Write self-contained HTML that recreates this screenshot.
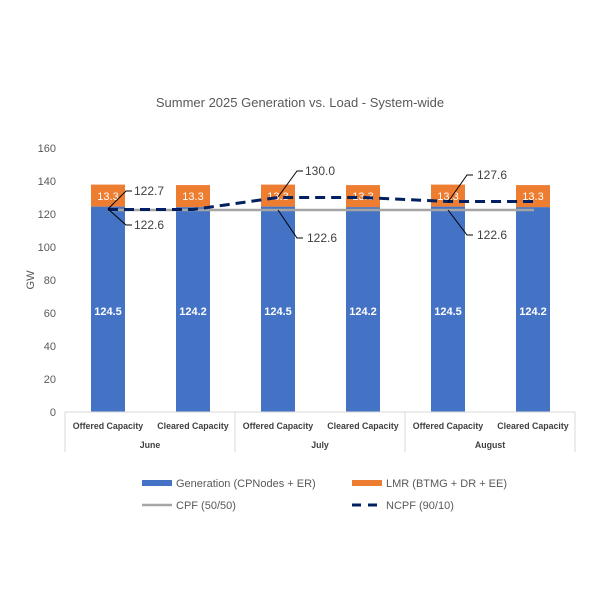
<!DOCTYPE html>
<html><head><meta charset="utf-8"><style>
body{margin:0;background:#fff;}
svg{display:block;font-family:"Liberation Sans",sans-serif;}
</style></head><body>
<svg width="600" height="600" viewBox="0 0 600 600" xmlns="http://www.w3.org/2000/svg">
<rect width="600" height="600" fill="#fff"/>
<text x="300" y="107" text-anchor="middle" font-size="13" fill="#595959">Summer 2025 Generation vs. Load - System-wide</text>
<g font-size="11" fill="#595959" text-anchor="end">
<text x="56" y="416">0</text><text x="56" y="383">20</text><text x="56" y="350">40</text><text x="56" y="317">60</text><text x="56" y="284">80</text><text x="56" y="251">100</text><text x="56" y="218">120</text><text x="56" y="185">140</text><text x="56" y="152">160</text>
</g>
<text x="34" y="280" font-size="11" fill="#595959" text-anchor="middle" transform="rotate(-90 34 280)">GW</text>
<g>
<rect x="91" y="206.6" width="34" height="205.4" fill="#4472c4"/><rect x="91" y="184.6" width="34" height="22" fill="#ed7d31"/>
<rect x="176" y="207.1" width="34" height="204.9" fill="#4472c4"/><rect x="176" y="185.1" width="34" height="22" fill="#ed7d31"/>
<rect x="261" y="206.6" width="34" height="205.4" fill="#4472c4"/><rect x="261" y="184.6" width="34" height="22" fill="#ed7d31"/>
<rect x="346" y="207.1" width="34" height="204.9" fill="#4472c4"/><rect x="346" y="185.1" width="34" height="22" fill="#ed7d31"/>
<rect x="431" y="206.6" width="34" height="205.4" fill="#4472c4"/><rect x="431" y="184.6" width="34" height="22" fill="#ed7d31"/>
<rect x="516" y="207.1" width="34" height="204.9" fill="#4472c4"/><rect x="516" y="185.1" width="34" height="22" fill="#ed7d31"/>
</g>
<g font-size="11" fill="#fff" text-anchor="middle">
<text x="108" y="200">13.3</text><text x="193" y="200">13.3</text><text x="278" y="200">13.3</text><text x="363" y="200">13.3</text><text x="448" y="200">13.3</text><text x="533" y="200">13.3</text>
<g font-weight="bold"><text x="108" y="315">124.5</text><text x="193" y="315">124.2</text><text x="278" y="315">124.5</text><text x="363" y="315">124.2</text><text x="448" y="315">124.5</text><text x="533" y="315">124.2</text></g>
</g>
<line x1="108" y1="210" x2="534" y2="210" stroke="#a5a5a5" stroke-width="2.5"/>
<polyline points="108,209.5 193,209.5 278,197.5 363,197.5 448,201.5 533,201.5" fill="none" stroke="#002060" stroke-width="3" stroke-dasharray="10,6"/>
<g stroke="#000" stroke-width="1" fill="none">
<polyline points="108,209 126,191 132,191"/><polyline points="108,209 126,225 132,225"/>
<polyline points="278,197 297,171 303,171"/><polyline points="278,210 297,238 303,238"/>
<polyline points="448,202 467,175 473,175"/><polyline points="448,210 467,235 473,235"/>
</g>
<g font-size="12" fill="#404040">
<text x="134" y="195">122.7</text><text x="134" y="229">122.6</text>
<text x="305" y="175">130.0</text><text x="307" y="242">122.6</text>
<text x="477" y="179">127.6</text><text x="477" y="239">122.6</text>
</g>
<g stroke="#d9d9d9" stroke-width="1">
<line x1="65" y1="412" x2="575" y2="412"/>
<line x1="65" y1="412" x2="65" y2="452"/><line x1="235" y1="412" x2="235" y2="452"/><line x1="405" y1="412" x2="405" y2="452"/><line x1="575" y1="412" x2="575" y2="452"/>
</g>
<g font-size="8.8" fill="#404040" font-weight="bold" text-anchor="middle">
<text x="108" y="429">Offered Capacity</text><text x="193" y="429">Cleared Capacity</text>
<text x="278" y="429">Offered Capacity</text><text x="363" y="429">Cleared Capacity</text>
<text x="448" y="429">Offered Capacity</text><text x="533" y="429">Cleared Capacity</text>
<text x="150" y="448">June</text><text x="320" y="448">July</text><text x="490" y="448">August</text>
</g>
<rect x="142" y="480" width="30" height="6" fill="#4472c4"/>
<text x="176" y="487" font-size="11" fill="#595959">Generation (CPNodes + ER)</text>
<rect x="352" y="480" width="30" height="6" fill="#ed7d31"/>
<text x="386" y="487" font-size="11" fill="#595959">LMR (BTMG + DR + EE)</text>
<line x1="142" y1="505" x2="172" y2="505" stroke="#a5a5a5" stroke-width="2.5"/>
<text x="176" y="509" font-size="11" fill="#595959">CPF (50/50)</text>
<line x1="352" y1="505" x2="382" y2="505" stroke="#002060" stroke-width="3" stroke-dasharray="9,7"/>
<text x="386" y="509" font-size="11" fill="#595959">NCPF (90/10)</text>
</svg>
</body></html>
